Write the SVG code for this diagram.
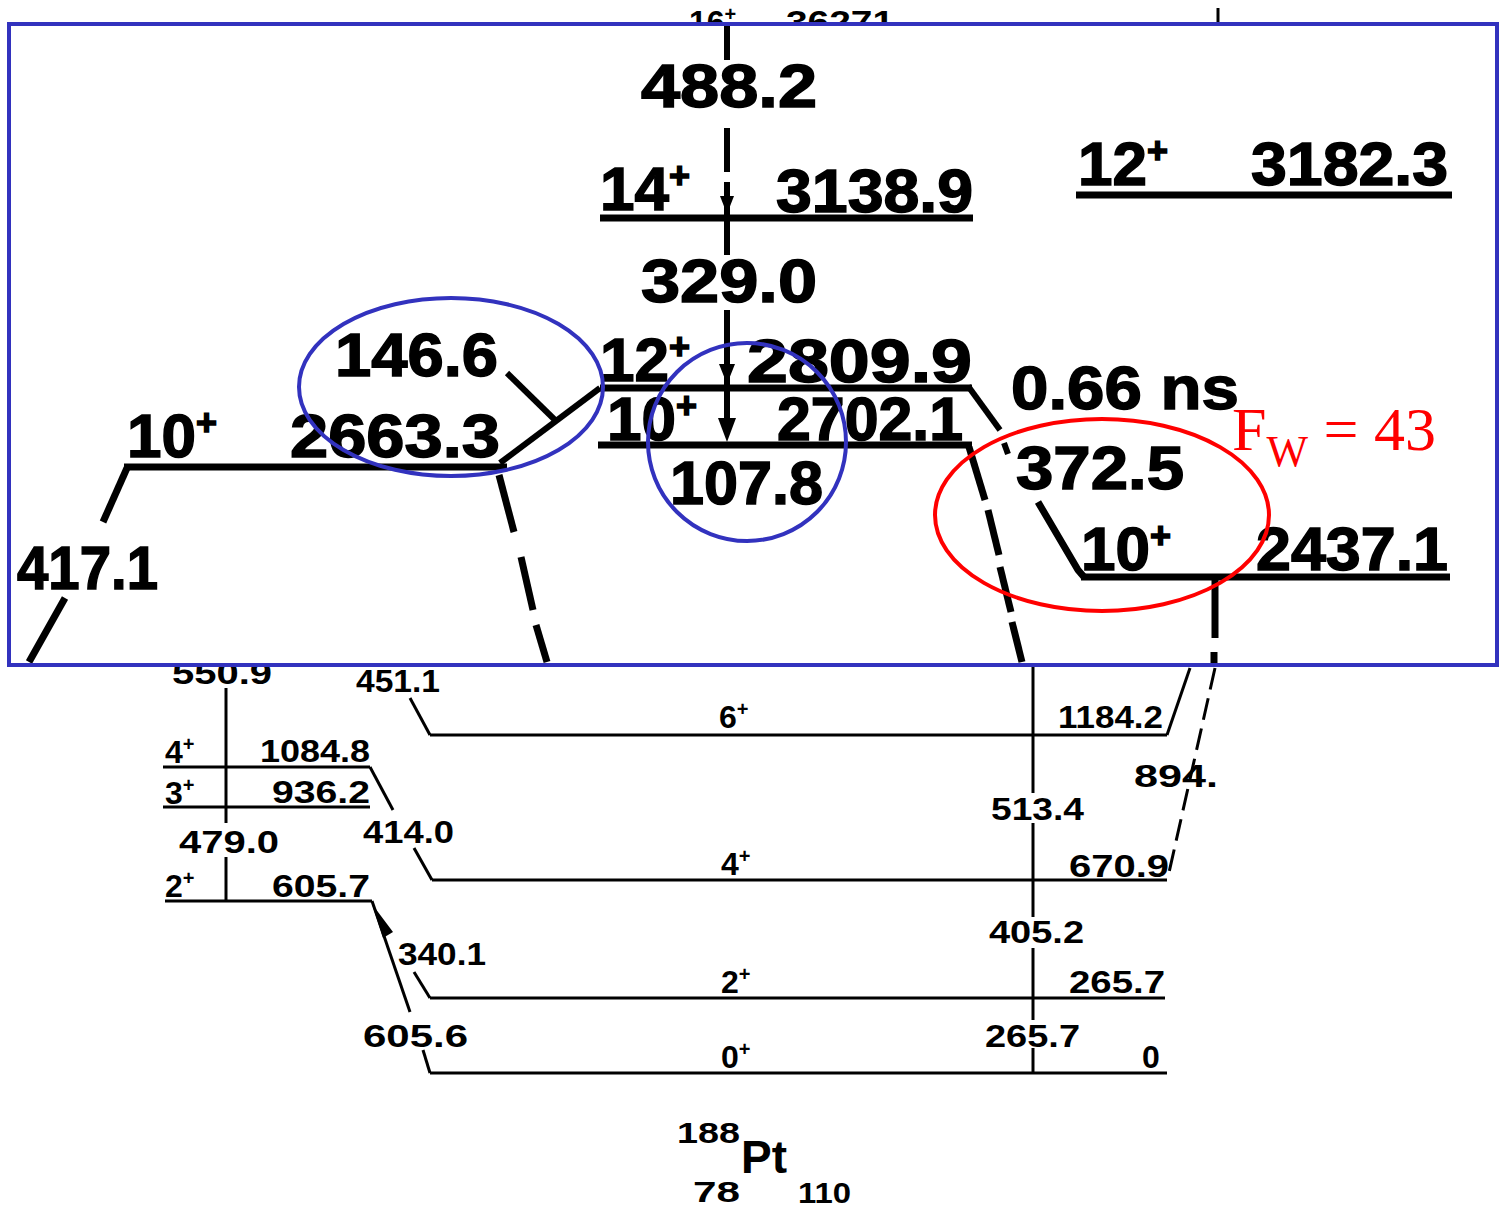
<svg xmlns="http://www.w3.org/2000/svg" width="1502" height="1209" viewBox="0 0 1502 1209">
<style>
text{font-family:"Liberation Sans",Arial,sans-serif;font-weight:bold;fill:#000}
.b{font-size:62px;stroke:#000;stroke-width:1.5}
.s{font-size:32px}
.sup{font-size:36px}
.ssup{font-size:20px}
.lv{stroke:#000;stroke-width:3;fill:none}
.tr{stroke:#000;stroke-width:3;fill:none}
.LV{stroke:#000;stroke-width:7;fill:none}
.TR{stroke:#000;stroke-width:6;fill:none}
.dash{stroke-dasharray:22 9}
.ov{fill:none;stroke:#3232BE;stroke-width:4}
.red{fill:none;stroke:#FF0000;stroke-width:4}
</style>
<rect width="1502" height="1209" fill="#fff"/>

<!-- ===== lower (original scale) part ===== -->
<g id="lower">
  <g id="lvl-16-36271">
    <text class="s" x="689" y="33">16<tspan class="ssup" dy="-12">+</tspan></text>
    <text class="s" x="786" y="33" textLength="108" lengthAdjust="spacingAndGlyphs">36271</text>
  </g>
  <g id="lvl-4-1084">
    <text class="s" x="165" y="763">4<tspan class="ssup" dy="-12">+</tspan></text>
    <text class="s" x="260" y="762" textLength="110" lengthAdjust="spacingAndGlyphs">1084.8</text>
    <line class="lv" x1="163" y1="767" x2="370" y2="767"/>
  </g>
  <g id="lvl-3-936">
    <text class="s" x="165" y="804">3<tspan class="ssup" dy="-12">+</tspan></text>
    <text class="s" x="272" y="803" textLength="98" lengthAdjust="spacingAndGlyphs">936.2</text>
    <line class="lv" x1="163" y1="807" x2="370" y2="807"/>
  </g>
  <g id="lvl-2-605">
    <text class="s" x="165" y="897">2<tspan class="ssup" dy="-12">+</tspan></text>
    <text class="s" x="272" y="897" textLength="98" lengthAdjust="spacingAndGlyphs">605.7</text>
    <line class="lv" x1="165" y1="901" x2="372" y2="901"/>
  </g>
  <g id="lvl-6-1184">
    <text class="s" x="719" y="728">6<tspan class="ssup" dy="-12">+</tspan></text>
    <text class="s" x="1058" y="728" textLength="105" lengthAdjust="spacingAndGlyphs">1184.2</text>
    <line class="lv" x1="430" y1="735" x2="1167" y2="735"/>
  </g>
  <g id="lvl-4-670">
    <text class="s" x="721" y="875">4<tspan class="ssup" dy="-12">+</tspan></text>
    <text class="s" x="1069" y="877" textLength="100" lengthAdjust="spacingAndGlyphs">670.9</text>
    <line class="lv" x1="432" y1="880" x2="1167" y2="880"/>
  </g>
  <g id="lvl-2-265">
    <text class="s" x="721" y="993">2<tspan class="ssup" dy="-12">+</tspan></text>
    <text class="s" x="1069" y="993" textLength="96" lengthAdjust="spacingAndGlyphs">265.7</text>
    <line class="lv" x1="430" y1="998" x2="1165" y2="998"/>
  </g>
  <g id="lvl-0-0">
    <text class="s" x="721" y="1068">0<tspan class="ssup" dy="-12">+</tspan></text>
    <text class="s" x="1142" y="1068">0</text>
    <line class="lv" x1="430" y1="1073" x2="1167" y2="1073"/>
  </g>
  <g id="nucleus">
    <text x="677" y="1143" font-size="29" textLength="63" lengthAdjust="spacingAndGlyphs">188</text>
    <text x="741" y="1173" font-size="46">Pt</text>
    <text x="693" y="1202" font-size="29" textLength="47" lengthAdjust="spacingAndGlyphs">78</text>
    <text x="798" y="1203" font-size="29" textLength="53" lengthAdjust="spacingAndGlyphs">110</text>
  </g>
  <g id="lower-connectors">
    <line class="tr" x1="1218" y1="8" x2="1218" y2="24"/>
    <text class="s" x="172" y="684" textLength="100" lengthAdjust="spacingAndGlyphs">550.9</text>
    <line class="tr" x1="226" y1="688" x2="226" y2="823"/>
    <line class="tr" x1="226" y1="857" x2="226" y2="900"/>
    <text class="s" x="179" y="853" textLength="100" lengthAdjust="spacingAndGlyphs">479.0</text>
    <text class="s" x="356" y="692" textLength="84" lengthAdjust="spacingAndGlyphs">451.1</text>
    <polyline class="tr" points="410,698 430,735"/>
    <polyline class="tr" points="370,767 393,810"/>
    <text class="s" x="363" y="843" textLength="91" lengthAdjust="spacingAndGlyphs">414.0</text>
    <polyline class="tr" points="414,848 432,880"/>
    <polyline class="tr" points="372,901 410,1012"/>
    <polygon points="372,904 393,932 383,938" fill="#000"/>
    <text class="s" x="398" y="965" textLength="88" lengthAdjust="spacingAndGlyphs">340.1</text>
    <polyline class="tr" points="414,972 430,998"/>
    <text class="s" x="363" y="1047" textLength="105" lengthAdjust="spacingAndGlyphs">605.6</text>
    <polyline class="tr" points="423,1050 430,1073"/>
    <polyline class="tr" points="1167,735 1190,668"/>
    <line class="tr dash" x1="1215" y1="668" x2="1168" y2="877"/>
    <text class="s" x="1134" y="787" textLength="84" lengthAdjust="spacingAndGlyphs">894.</text>
    <line class="tr" x1="1033" y1="665" x2="1033" y2="793"/>
    <text class="s" x="991" y="820" textLength="93" lengthAdjust="spacingAndGlyphs">513.4</text>
    <line class="tr" x1="1033" y1="823" x2="1033" y2="917"/>
    <text class="s" x="989" y="943" textLength="95" lengthAdjust="spacingAndGlyphs">405.2</text>
    <line class="tr" x1="1033" y1="948" x2="1033" y2="1020"/>
    <text class="s" x="985" y="1047" textLength="95" lengthAdjust="spacingAndGlyphs">265.7</text>
    <line class="tr" x1="1033" y1="1048" x2="1033" y2="1074"/>
  </g>
</g>

<!-- white inset for enlarged part -->
<rect x="9" y="24" width="1488" height="641" fill="#fff"/>

<!-- ===== enlarged upper part ===== -->
<g id="upper">
  <g id="lvl-14-3138">
    <text class="b" x="600" y="210">14<tspan class="sup" dy="-22">+</tspan></text>
    <text class="b" x="776" y="212" textLength="197" lengthAdjust="spacingAndGlyphs">3138.9</text>
    <line class="LV" x1="600" y1="218" x2="973" y2="218"/>
  </g>
  <g id="lvl-12-3182">
    <text class="b" x="1078" y="185">12<tspan class="sup" dy="-22">+</tspan></text>
    <text class="b" x="1251" y="185" textLength="197" lengthAdjust="spacingAndGlyphs">3182.3</text>
    <line class="LV" x1="1076" y1="195" x2="1452" y2="195" stroke-width="5"/>
  </g>
  <g id="lvl-12-2809">
    <text class="b" x="600" y="381">12<tspan class="sup" dy="-22">+</tspan></text>
    <text class="b" x="747" y="382" textLength="225" lengthAdjust="spacingAndGlyphs">2809.9</text>
    <line class="LV" x1="600" y1="388" x2="972" y2="388" stroke-width="9"/>
  </g>
  <g id="lvl-10-2702">
    <text class="b" x="607" y="440">10<tspan class="sup" dy="-22">+</tspan></text>
    <text class="b" x="777" y="440" textLength="186" lengthAdjust="spacingAndGlyphs">2702.1</text>
    <line class="LV" x1="598" y1="445" x2="972" y2="445"/>
  </g>
  <g id="lvl-10-2663">
    <text class="b" x="127" y="457">10<tspan class="sup" dy="-22">+</tspan></text>
    <text class="b" x="290" y="457" textLength="210" lengthAdjust="spacingAndGlyphs">2663.3</text>
    <line class="LV" x1="124" y1="467" x2="507" y2="467"/>
  </g>
  <g id="lvl-10-2437">
    <text class="b" x="1081" y="570">10<tspan class="sup" dy="-22">+</tspan></text>
    <text class="b" x="1256" y="570" textLength="192" lengthAdjust="spacingAndGlyphs">2437.1</text>
    <line class="LV" x1="1081" y1="577" x2="1450" y2="577"/>
  </g>
  <g id="upper-connectors">
    <line class="TR" x1="727" y1="24" x2="727" y2="60"/>
    <text class="b" x="641" y="107" textLength="176" lengthAdjust="spacingAndGlyphs">488.2</text>
    <line class="TR" x1="727" y1="128" x2="727" y2="172"/>
    <line class="TR" x1="727" y1="182" x2="727" y2="255"/>
    <polygon points="720,196 734,196 727,214" fill="#000"/>
    <text class="b" x="641" y="302" textLength="176" lengthAdjust="spacingAndGlyphs">329.0</text>
    <line class="TR" x1="727" y1="310" x2="727" y2="430"/>
    <polygon points="719,364 735,364 727,384" fill="#000"/>
    <polygon points="718,418 736,418 727,442" fill="#000"/>
    <text class="b" x="670" y="504" textLength="153" lengthAdjust="spacingAndGlyphs">107.8</text>
    <text class="b" x="335" y="376" textLength="163" lengthAdjust="spacingAndGlyphs">146.6</text>
    <line class="TR" x1="507" y1="373" x2="555" y2="420" stroke-width="5"/>
    <line class="TR" x1="600" y1="388" x2="500" y2="463"/>
    <polyline class="LV" points="127,468 103,522"/>
    <text class="b" x="17" y="589" textLength="141" lengthAdjust="spacingAndGlyphs">417.1</text>
    <line class="LV" x1="65" y1="598" x2="29" y2="662"/>
    <line class="LV" x1="499" y1="475" x2="514" y2="532"/>
    <line class="LV" x1="521" y1="557" x2="533" y2="610"/>
    <line class="LV" x1="536" y1="625" x2="547" y2="662"/>
    <text class="b" x="1011" y="409" textLength="228" lengthAdjust="spacingAndGlyphs">0.66 ns</text>
    <line class="TR" x1="968" y1="386" x2="1000" y2="430"/>
    <line class="TR" x1="1004" y1="443" x2="1008" y2="454"/>
    <text class="b" x="1016" y="489" textLength="168" lengthAdjust="spacingAndGlyphs">372.5</text>
    <polyline class="LV" points="1038,502 1078,570 1084,577"/>
    <line class="LV" x1="969" y1="447" x2="985" y2="500"/>
    <line class="LV" x1="988" y1="510" x2="999" y2="555"/>
    <line class="LV" x1="1000" y1="567" x2="1011" y2="612"/>
    <line class="LV" x1="1012" y1="622" x2="1022" y2="662"/>
    <line class="LV" x1="1215" y1="580" x2="1215" y2="638" stroke-width="8"/>
    <line class="LV" x1="1214" y1="652" x2="1214" y2="665" stroke-width="8"/>
  </g>
</g>

<!-- ===== annotations ===== -->
<g id="annotations">
  <rect class="ov" x="9" y="24" width="1488" height="641"/>
  <ellipse class="ov" cx="451" cy="387" rx="152" ry="89"/>
  <ellipse class="ov" cx="747" cy="442" rx="99" ry="99"/>
  <ellipse class="red" cx="1102" cy="515" rx="167" ry="96"/>
  <text x="1232" y="450" font-family="'Liberation Serif','Times New Roman',serif" font-weight="normal" font-size="62" fill="#FF0000" style="font-family:'Liberation Serif',serif;font-weight:normal;fill:#f00">F<tspan font-size="44" dy="16">W</tspan><tspan dy="-16"> = 43</tspan></text>
</g>
</svg>
